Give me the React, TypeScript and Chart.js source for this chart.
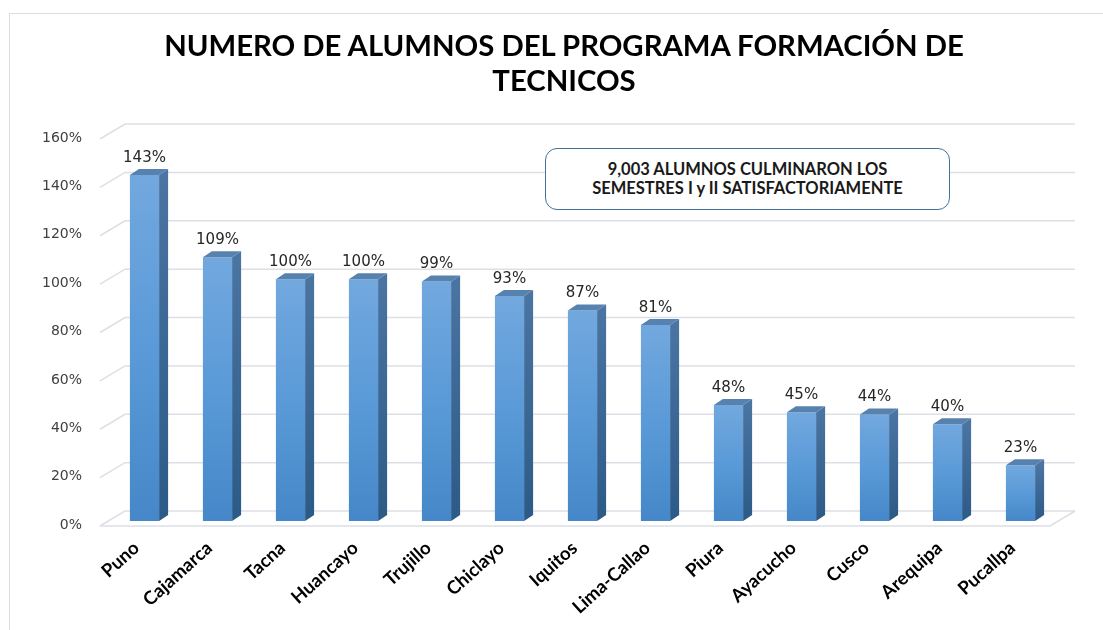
import React, { useEffect, useRef } from "react";
import { Chart, registerables } from "chart.js";

Chart.register(...registerables);

const categories = [
  "Puno", "Cajamarca", "Tacna", "Huancayo", "Trujillo", "Chiclayo", "Iquitos",
  "Lima-Callao", "Piura", "Ayacucho", "Cusco", "Arequipa", "Pucallpa",
];
const percentages = [143, 109, 100, 100, 99, 93, 87, 81, 48, 45, 44, 40, 23];
const yTickValues = [0, 20, 40, 60, 80, 100, 120, 140, 160];
const titleLines = ["NUMERO DE ALUMNOS DEL PROGRAMA FORMACIÓN DE", "TECNICOS"];
const noteLines = ["9,003 ALUMNOS CULMINARON LOS", "SEMESTRES I y II SATISFACTORIAMENTE"];

const BAR_DX = 9;
const BAR_DY = 6;

const wallPlugin = {
  id: "wall3d",
  beforeDatasetsDraw(chart: any) {
    const { ctx, chartArea, scales } = chart;
    const y = scales.y;
    const L = chartArea.left;
    const R = chartArea.right;
    const B = chartArea.bottom;
    ctx.save();
    ctx.strokeStyle = "#dcdfe5";
    ctx.lineWidth = 1.5;
    yTickValues.forEach((v) => {
      const py = y.getPixelForValue(v);
      ctx.beginPath();
      ctx.moveTo(L - 8, py + 5);
      ctx.lineTo(L + 17, py - 10);
      ctx.lineTo(R + 18, py - 10);
      ctx.stroke();
    });
    ctx.beginPath();
    ctx.moveTo(L - 8, B + 5);
    ctx.lineTo(R - 7, B + 5);
    ctx.lineTo(R + 18, B - 10);
    ctx.stroke();
    ctx.restore();
  },
};

const barFacesPlugin = {
  id: "barFaces",
  afterDatasetsDraw(chart: any) {
    const { ctx } = chart;
    const meta = chart.getDatasetMeta(0);
    ctx.save();
    meta.data.forEach((bar: any, i: number) => {
      const half = bar.width / 2;
      const l = bar.x - half;
      const r = bar.x + half;
      const t = bar.y;
      const b = bar.base;
      const sg = ctx.createLinearGradient(0, t, 0, b);
      sg.addColorStop(0, "#4a74a2");
      sg.addColorStop(1, "#2c5a87");
      ctx.fillStyle = sg;
      ctx.beginPath();
      ctx.moveTo(r, t);
      ctx.lineTo(r + BAR_DX, t - BAR_DY);
      ctx.lineTo(r + BAR_DX, b - BAR_DY);
      ctx.lineTo(r, b);
      ctx.closePath();
      ctx.fill();
      ctx.fillStyle = "#5781ae";
      ctx.beginPath();
      ctx.moveTo(l, t);
      ctx.lineTo(l + BAR_DX, t - BAR_DY);
      ctx.lineTo(r + BAR_DX, t - BAR_DY);
      ctx.lineTo(r, t);
      ctx.closePath();
      ctx.fill();
      ctx.fillStyle = "#262626";
      ctx.font = "15px 'DejaVu Sans'";
      ctx.textAlign = "center";
      ctx.textBaseline = "middle";
      ctx.fillText(percentages[i] + "%", bar.x, t - 17);
    });
    ctx.restore();
  },
};

export default function App() {
  const canvasRef = useRef<HTMLCanvasElement | null>(null);

  useEffect(() => {
    const canvas = canvasRef.current;
    if (!canvas) return;
    const chart = new Chart(canvas, {
      type: "bar",
      data: {
        labels: categories,
        datasets: [
          {
            data: percentages,
            backgroundColor: (c: any) => {
              const ch = c.chart;
              const ys = ch.scales && ch.scales.y;
              if (!ys || !ch.chartArea || c.dataIndex === undefined) return "#5b9bd5";
              const top = ys.getPixelForValue(percentages[c.dataIndex]);
              const bottom = ys.getPixelForValue(0);
              const g = ch.ctx.createLinearGradient(0, top, 0, bottom);
              g.addColorStop(0, "#72a8de");
              g.addColorStop(0.5, "#5a9ad8");
              g.addColorStop(1, "#4587c8");
              return g;
            },
            borderWidth: 0,
            barPercentage: 0.4,
            categoryPercentage: 1,
          },
        ],
      },
      options: {
        responsive: false,
        animation: false,
        layout: { padding: { left: 0, right: 46, top: 134, bottom: 0 } },
        plugins: {
          legend: { display: false },
          tooltip: { enabled: false },
          title: { display: false },
        },
        scales: {
          x: {
            grid: { display: false, drawTicks: false },
            border: { display: false },
            ticks: {
              autoSkip: false,
              minRotation: 42,
              maxRotation: 42,
              padding: 16,
              labelOffset: -8,
              color: "#000000",
              font: { family: "Lato", weight: "bold", size: 18.5 },
            },
            afterFit: (s: any) => {
              s.height = 109;
            },
          },
          y: {
            min: 0,
            max: 160,
            grid: { display: false, drawTicks: false },
            border: { display: false },
            afterBuildTicks: (s: any) => {
              s.ticks = yTickValues.map((v) => ({ value: v }));
            },
            ticks: {
              padding: 26,
              labelOffset: 4,
              color: "#404040",
              font: { family: "DejaVu Sans", size: 14 },
              callback: (v: any) => v + "%",
            },
            afterFit: (s: any) => {
              s.width = 108;
            },
          },
        },
      },
      plugins: [wallPlugin, barFacesPlugin],
    });
    return () => chart.destroy();
  }, []);

  return (
    <div style={{ position: "absolute", left: 0, top: 0, width: 1103, height: 630, background: "#ffffff", overflow: "hidden" }}>
      <div
        style={{
          position: "absolute",
          left: 9,
          top: 13,
          width: 1200,
          height: 700,
          borderLeft: "1.5px solid #d9dde2",
          borderTop: "1.5px solid #d9dde2",
        }}
      />
      <canvas ref={canvasRef} width={1103} height={630} style={{ position: "absolute", left: 0, top: 0 }} />
      <div
        style={{
          position: "absolute",
          left: 164,
          top: 27,
          width: 800,
          textAlign: "center",
          fontFamily: "Lato, sans-serif",
          fontWeight: 700,
          fontSize: 29.3,
          lineHeight: "35px",
          color: "#000000",
          whiteSpace: "nowrap",
        }}
      >
        {titleLines.map((t) => (
          <div key={t}>{t}</div>
        ))}
      </div>
      <div
        style={{
          position: "absolute",
          left: 545,
          top: 148,
          width: 405,
          height: 62,
          boxSizing: "border-box",
          border: "1.5px solid #41719c",
          borderRadius: 12,
          background: "#ffffff",
          display: "flex",
          flexDirection: "column",
          alignItems: "center",
          justifyContent: "center",
          fontFamily: "Lato, sans-serif",
          fontWeight: 700,
          fontSize: 16.5,
          lineHeight: "19px",
          color: "#1a1a1a",
        }}
      >
        {noteLines.map((t) => (
          <div key={t}>{t}</div>
        ))}
      </div>
    </div>
  );
}
